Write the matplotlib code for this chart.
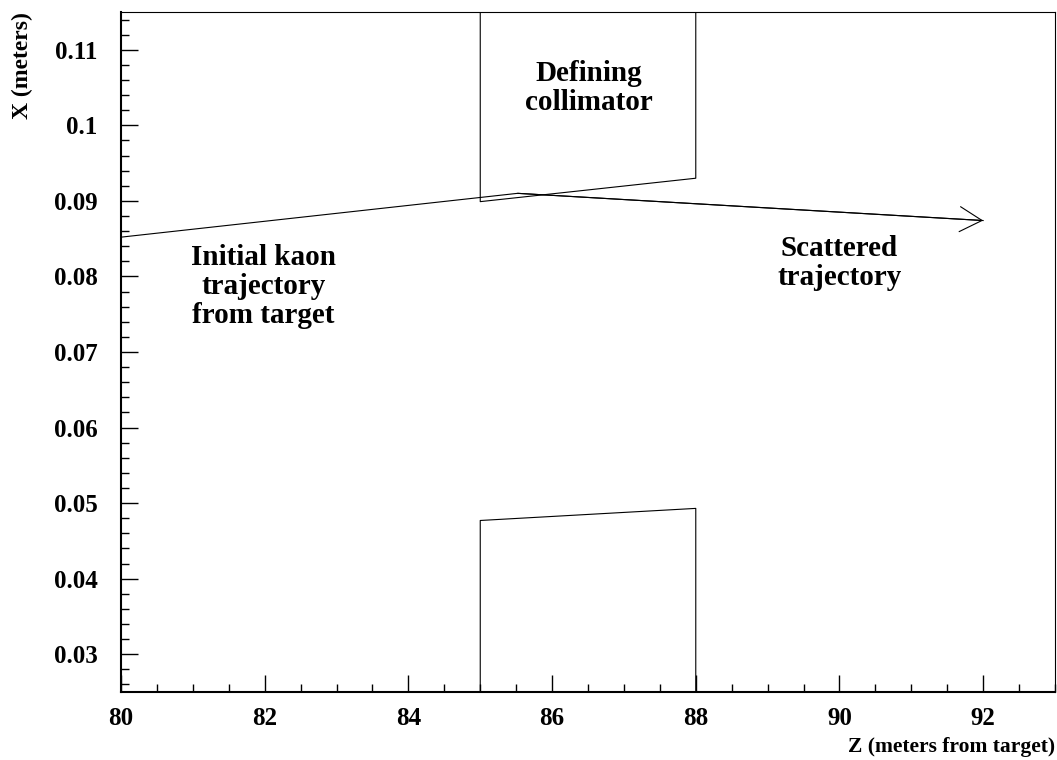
import matplotlib
matplotlib.use("Agg")
import matplotlib.pyplot as plt
from matplotlib.ticker import MultipleLocator

# --- data ---
traj_z = [80.0, 85.52, 92.0]          # kaon path, kink at the collimator
traj_x = [0.0852, 0.0910, 0.0874]

upper_z = [85.0, 85.0, 88.0, 88.0]    # upper jaw of defining collimator
upper_x = [0.117, 0.0899, 0.0930, 0.117]
lower_z = [85.0, 85.0, 88.0, 88.0]    # lower jaw
lower_x = [0.023, 0.0477, 0.0493, 0.023]

z_ticks = [80, 82, 84, 86, 88, 90, 92]
x_ticks = [0.03, 0.04, 0.05, 0.06, 0.07, 0.08, 0.09, 0.1, 0.11]
x_ticklabels = ["0.03", "0.04", "0.05", "0.06", "0.07", "0.08", "0.09", "0.1", "0.11"]

plt.rcParams["font.family"] = ["Liberation Serif", "DejaVu Serif"]
plt.rcParams["font.weight"] = "bold"

fig = plt.figure(figsize=(10.57, 7.6), dpi=100)
ax = fig.add_axes([0.1145, 0.0895, 0.8836, 0.8947])

ax.plot(traj_z, traj_x, color="black", lw=0.8)
ax.annotate("", xy=(traj_z[-1], traj_x[-1]), xytext=(traj_z[-2], traj_x[-2]),
            arrowprops=dict(arrowstyle="->,head_length=0.8,head_width=0.45",
                            mutation_scale=20, color="black", lw=0.8,
                            shrinkA=0, shrinkB=0))
ax.plot(upper_z, upper_x, color="black", lw=0.8)
ax.plot(lower_z, lower_x, color="black", lw=0.8)

# labels inside the plot
txt = dict(fontsize=21, fontweight="bold", ha="center", va="center", linespacing=1.1)
ax.text(86.51, 0.1049, "Defining\ncollimator", **txt)
ax.text(81.98, 0.0787, "Initial kaon\ntrajectory\nfrom target", **txt)
ax.text(90.0, 0.0818, "Scattered\ntrajectory", **txt)

ax.set_xlim(80, 93)
ax.set_ylim(0.025, 0.115)
ax.set_xticks(z_ticks)
ax.set_xticklabels([str(t) for t in z_ticks])
ax.set_yticks(x_ticks)
ax.set_yticklabels(x_ticklabels)
ax.xaxis.set_minor_locator(MultipleLocator(0.5))
ax.yaxis.set_minor_locator(MultipleLocator(0.002))
ax.tick_params(which="both", direction="in", top=False, right=False, width=1)
ax.tick_params(which="major", length=12, labelsize=18)
ax.tick_params(axis="y", which="major", pad=17)
ax.tick_params(axis="x", which="major", pad=11)
ax.tick_params(which="minor", length=6)
for lbl in ax.get_xticklabels() + ax.get_yticklabels():
    lbl.set_fontweight("bold")

ax.spines["left"].set_linewidth(1.5)
ax.spines["bottom"].set_linewidth(1.5)
ax.spines["top"].set_linewidth(0.8)
ax.spines["right"].set_linewidth(0.8)

ax.set_xlabel("Z (meters from target)", fontsize=15.5, fontweight="bold", ha="right")
ax.xaxis.set_label_coords(1.0, -0.066)
ax.set_ylabel("X (meters)", fontsize=17, fontweight="bold", ha="right")
ax.yaxis.set_label_coords(-0.094, 1.0)

fig.savefig("out.png", dpi=100)
